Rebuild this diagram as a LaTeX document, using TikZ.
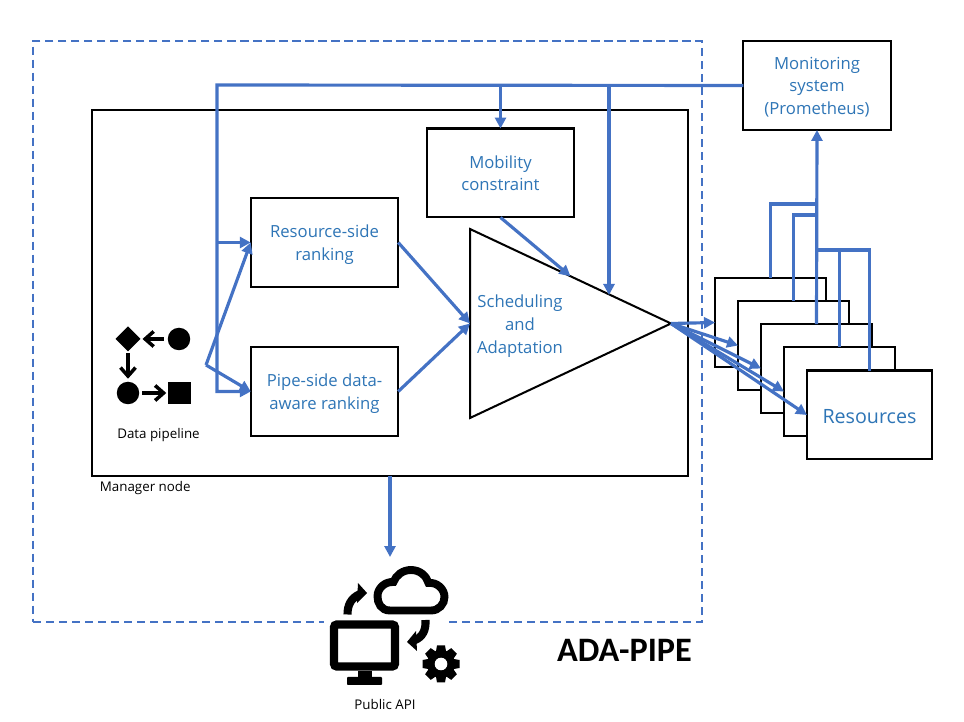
\documentclass[tikz,border=0pt]{standalone}
\usepackage{fontspec}
\setmainfont{Open Sans}
\newfontfamily\titlefont{Carlito}
\usepackage{xcolor}
\usepackage{tikz}
\usetikzlibrary{arrows.meta, positioning, shapes.geometric}
\definecolor{flowblue}{HTML}{4472C4}
\definecolor{textblue}{HTML}{2E75B6}
\newcommand{\topgap}{\rule{0pt}{9.6pt}}

\begin{document}
\begin{tikzpicture}[
    x=0.02cm, y=-0.02cm,
    box/.style={draw, rectangle, line width=1.15pt, outer sep=0pt, fill=white, minimum width=2.95cm, minimum height=1.78cm, align=center, text=textblue, font=\fontsize{9.5}{13}\selectfont},
    textbox/.style={box, execute at end node={\rule[-2.2pt]{0pt}{2.2pt}}},
    resbox/.style={box, minimum width=2.22cm},
    flow/.style={draw=flowblue, line width=1.8pt},
    arrowflow/.style={flow, -{Triangle[length=0.22cm, width=0.22cm]}},
    caption/.style={inner sep=0pt, font=\fontsize{7.6}{9}\selectfont},
    icon/.style={fill=black, inner sep=0pt, outer sep=0pt},
    iconarrow/.style={line width=2.2pt, -{Straight Barb[length=0.17cm, width=0.3cm, line width=2pt]}},
]
    \useasboundingbox (0,0) rectangle (964,722);

    \node[draw=flowblue, line width=1.15pt, dash pattern=on 4.6pt off 2.8pt, minimum width=13.38cm, minimum height=11.62cm, outer sep=0pt] (adapipe) at (367.5,331.5) {};
    \node[draw, line width=1.15pt, minimum width=11.92cm, minimum height=7.32cm, outer sep=0pt] (manager) at (390,293) {};
    \node[caption, anchor=west] (managerlabel) at (99.5,488) {Manager node};
    \node[font=\titlefont\bfseries\fontsize{19.5}{22}\selectfont, inner sep=0pt] (title) at (624.5,650) {ADA-PIPE};

    % boxes
    \node[textbox] (mobility) at (500.5,173) {\topgap Mobility\\constraint};
    \node[textbox] (rank) at (324.5,242.5) {\topgap Resource-side\\ranking};
    \node[textbox, below=1.2cm of rank] (pipe) {\topgap Pipe-side data-\\aware ranking};
    \node[textbox] (mon) at (817,85.5) {\topgap Monitoring\\system\\(Prometheus)};

    % scheduler
    \node[draw, line width=1.15pt, isosceles triangle, isosceles triangle stretches, minimum width=3.78cm, minimum height=4.02cm, inner sep=0pt, outer sep=0pt, anchor=apex] (sched) at (671,323.5) {};
    \node[text=textblue, align=center, inner sep=0pt, font=\fontsize{9.5}{13}\selectfont, execute at end node={\rule[-2.2pt]{0pt}{2.2pt}}] (schedlabel) at (520,324) {\topgap Scheduling\\and\\Adaptation};

    % resources
    \node[resbox] (res1) at (770.5,322.5) {};
    \node[resbox] (res2) at (793.5,345.5) {};
    \node[resbox] (res3) at (816.5,368.5) {};
    \node[resbox] (res4) at (839.5,391.5) {};
    \node[box, minimum width=2.5cm, font=\fontsize{11.2}{13}\selectfont] (res5) at (869.5,415) {\topgap Resources};

    % bus from monitoring
    \coordinate (bustop) at (217,85);
    \coordinate (pipeout) at (206,365);
    \coordinate (sensein) at (609,295);
    \coordinate (apitip) at (390,557);
    \coordinate (tap1) at (817,204);
    \coordinate (tap2) at (817,215);
    \coordinate (tap3) at (817,250);

    \draw[arrowflow] (mon.west) -- (bustop) |- (pipe.west);
    \draw[arrowflow] (bustop |- rank.west) -- (rank.west);
    \draw[arrowflow] (mobility.north |- bustop) -- (mobility.north);
    \draw[arrowflow] (sensein |- bustop) -- (sensein);
    \draw[arrowflow] (pipeout) -- (rank.west);
    \draw[arrowflow] (pipeout) -- (pipe.west);
    \draw[arrowflow] (rank.east) -- (sched.lower side);
    \draw[arrowflow] (pipe.east) -- (sched.lower side);
    \draw[arrowflow] (mobility.south) -- (sched.left side);
    \draw[arrowflow] (manager.south) -- (apitip);

    \draw[arrowflow] (sched.apex) -- (res1.west);
    \draw[arrowflow] (sched.apex) -- (res2.west);
    \draw[arrowflow] (sched.apex) -- (res3.west);
    \draw[arrowflow] (sched.apex) -- (res4.west);
    \draw[arrowflow] (sched.apex) -- (res5.west);

    \draw[arrowflow] (res3.north) -- (mon.south);
    \draw[flow] (res1.north) |- (tap1);
    \draw[flow] (res2.north) |- (tap2);
    \draw[flow] (res5.north) |- (tap3);
    \draw[flow] (res4.north) -- (res4.north |- tap3);

    % data pipeline icon
    \node[icon, diamond, minimum width=0.5cm, minimum height=0.5cm] (dpdiamond) at (128,339) {};
    \node[icon, circle, minimum size=0.45cm] (dpsource) at (179,339) {};
    \node[icon, circle, minimum size=0.45cm] (dpmiddle) at (128,393) {};
    \node[icon, rectangle, minimum size=0.45cm] (dpsquare) at (179.5,393) {};
    \draw[iconarrow, shorten <=0.08cm, shorten >=0.04cm] (dpsource) -- (dpdiamond);
    \draw[iconarrow, shorten <=0.04cm, shorten >=0.06cm] (dpdiamond) -- (dpmiddle);
    \draw[iconarrow, shorten <=0.06cm, shorten >=0.04cm] (dpmiddle) -- (dpsquare);
    \node[caption] (dplabel) at (158.5,435) {Data pipeline};

    % public api icon
    \fill[white] (324,615) rectangle (448,630);
    \draw[line width=4.5pt] (390,610.5) .. controls (381,610.5) and (377.5,603) .. (377.5,596.5) .. controls (377.5,588) and (385,581.5) .. (393.5,582) .. controls (396,575) and (403,570) .. (411,570) .. controls (420,570) and (426.5,576) .. (428.5,583) .. controls (437,582) and (444.5,589) .. (444.5,597) .. controls (444.5,604) and (439,610.5) .. (431,610.5) -- cycle;
    \draw[fill=white, line width=4.6pt, rounded corners=1.5pt] (334,624.5) rectangle (395,666.5);
    \fill (358,671) rectangle (372,677);
    \fill[rounded corners=0.5pt] (347,677) rectangle (382,685);
    \draw[line width=4.6pt] (347.5,614.5) .. controls (347.5,605) and (351,598) .. (360,594);
    \fill (367,593) -- (358,583) -- (357,603) -- cycle;
    \draw[line width=4.6pt] (425.5,620) .. controls (426,630) and (423,637) .. (414,640.5);
    \fill (407,642) -- (416,631) -- (417,651) -- cycle;
    \foreach \toothangle in {0,45,...,315}
        \fill[rotate around={\toothangle:(441,664)}] (437,645.5) -- (445,645.5) -- (446.5,654) -- (435.5,654) -- cycle;
    \fill (441,664) circle (14);
    \fill[white] (441,664) circle (6.3);
    \node[caption] (apilabel) at (385,704) {Public API};
\end{tikzpicture}
\end{document}
